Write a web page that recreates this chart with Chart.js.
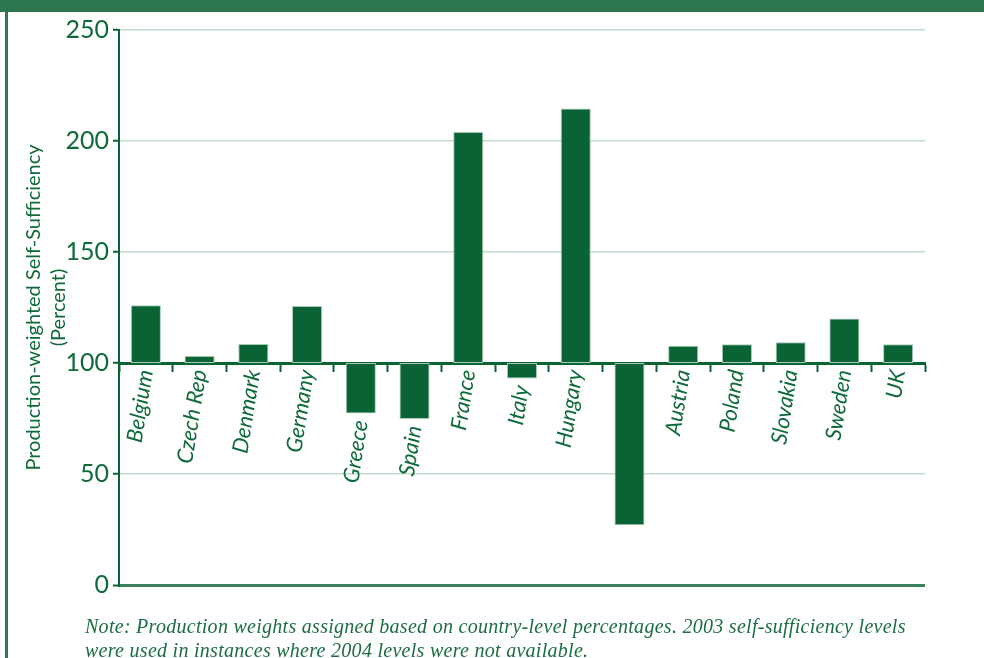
<!DOCTYPE html>
<html>
<head>
<meta charset="utf-8">
<script src="https://cdn.jsdelivr.net/npm/chart.js@4/dist/chart.umd.min.js"></script>
<style>
  body { margin: 0; background: #fff; }
  #page { position: relative; width: 984px; height: 658px; overflow: hidden; background: #fff; }
  #band { position: absolute; left: 0; top: 0; width: 984px; height: 12px; background: #2d7650; }
  #edge { position: absolute; left: 5px; top: 12px; width: 3px; height: 646px; background: #2e7750; }
  #wrap { position: absolute; left: 0; top: 0; width: 984px; height: 620px; }
  #note {
    position: absolute; left: 85px; top: 614px;
    font-family: "Liberation Serif", serif; font-style: italic;
    font-size: 20px; letter-spacing: 0.28px; line-height: 24px; color: #1c6e40;
    white-space: nowrap;
  }
</style>
</head>
<body>
<div id="page">
  <div id="wrap"><canvas id="chart"></canvas></div>
  <div id="band"></div>
  <div id="edge"></div>
  <div id="note">Note: Production weights assigned based on country-level percentages. 2003 self-sufficiency levels<br>were used in instances where 2004 levels were not available.</div>
</div>
<script>
// countries, the 10th bar has no label in the original
const countries = ['Belgium', 'Czech Rep', 'Denmark', 'Germany', 'Greece', 'Spain', 'France', 'Italy',
                   'Hungary', '', 'Austria', 'Poland', 'Slovakia', 'Sweden', 'UK'];
const selfSufficiency = [126, 103.2, 108.6, 125.7, 77.3, 74.8, 204, 93, 214.6, 26.9, 107.8, 108.5, 109.3, 120.1, 108.4];
const baseline = 100;
const yTicks = [0, 50, 100, 150, 200, 250];

const GREEN = '#0a6335';
const TEXT = '#0e6a39';

// bars float from the 100% line
const barData = selfSufficiency.map(v => [baseline, v]);

const countryLabels = {
    id: 'countryLabels',
    afterDatasetsDraw(chart) {
        const ctx = chart.ctx;
        const x = chart.scales.x;
        const y = chart.scales.y;
        ctx.save();
        ctx.fillStyle = TEXT;
        ctx.font = 'italic 22px Lato';
        ctx.textAlign = 'right';
        ctx.textBaseline = 'middle';
        countries.forEach((name, i) => {
            if (!name) return;
            const px = x.getPixelForValue(i);
            const py = Math.max(y.getPixelForValue(baseline), y.getPixelForValue(selfSufficiency[i])) + 7;
            ctx.save();
            ctx.translate(px, py);
            ctx.rotate(-81 * Math.PI / 180);
            ctx.fillText(name, 0, 0);
            ctx.restore();
        });
        ctx.restore();
    }
};

new Chart(document.getElementById('chart'), {
    type: 'bar',
    data: {
        labels: countries,
        datasets: [{
            data: barData,
            backgroundColor: GREEN,
            borderColor: '#a9c9b6',
            borderWidth: 1,
            borderSkipped: false,
            categoryPercentage: 1,
            barPercentage: 0.56
        }]
    },
    options: {
        responsive: true,
        maintainAspectRatio: false,
        animation: false,
        layout: { padding: { left: 0, top: 30, right: 59, bottom: 35 } },
        plugins: {
            legend: { display: false },
            tooltip: { enabled: false }
        },
        scales: {
            x: {
                position: { y: baseline },
                afterFit: (scale) => { scale.height = 0; },
                ticks: { display: false },
                grid: {
                    drawOnChartArea: false,
                    drawTicks: true,
                    tickLength: 7,
                    tickWidth: 2,
                    tickColor: GREEN
                },
                border: { color: GREEN, width: 3 }
            },
            y: {
                min: 0,
                max: 250,
                afterFit: (scale) => { scale.width = 119; },
                afterBuildTicks: (scale) => { scale.ticks = yTicks.map(v => ({ value: v })); },
                ticks: {
                    color: TEXT,
                    font: { family: 'Lato', size: 25 },
                    padding: 4
                },
                grid: {
                    color: (c) => c.tick.value === 0 ? '#3f8262' : (c.tick.value === baseline ? 'rgba(0,0,0,0)' : '#c3dacd'),
                    lineWidth: (c) => c.tick.value === 0 ? 3 : 1.5,
                    tickColor: GREEN,
                    tickLength: 6,
                    tickWidth: 2
                },
                border: { color: GREEN, width: 2 },
                title: {
                    display: true,
                    text: ['Production-weighted Self-Sufficiency', '(Percent)'],
                    color: TEXT,
                    font: { family: 'Lato', size: 20, lineHeight: 1.25 },
                    padding: { top: 21, bottom: 0 }
                }
            }
        }
    },
    plugins: [countryLabels]
});
</script>
</body>
</html>
